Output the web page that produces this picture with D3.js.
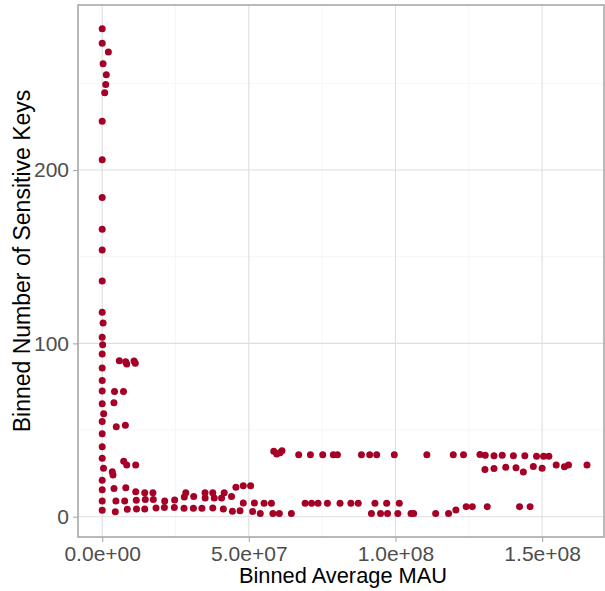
<!DOCTYPE html>
<html>
<head>
<meta charset="utf-8">
<script src="https://cdn.jsdelivr.net/npm/d3@7"></script>
<style>
  html, body { margin: 0; padding: 0; background: #ffffff; }
  svg { display: block; font-family: "Liberation Sans", Arial, sans-serif; }
</style>
</head>
<body>
<svg id="chart" width="605" height="591"></svg>
<script>
// Binned average MAU (x) against binned number of sensitive keys (y)
const mauValues = [
  // bins near zero MAU
  0, 0, 2.1e6, 0.3e6, 1.4e6, 1.2e6, 0.85e6, 0, 0, 0,
  0, 0, 0, 0, 0.3e6, 0, 0.15e6, 0, 0, 0,
  0, 0, 0.5e6, 0, 0, 0, 0, 0.45e6, 0, 0,
  0, 0,
  // small MAU bins
  5.83e6, 8.0e6, 8.36e6, 10.85e6, 11.29e6, 4.2e6, 7.26e6, 4.0e6, 4.8e6, 7.9e6,
  7.33e6, 8.36e6, 11.43e6, 3.44e6, 3.68e6, 4.02e6, 8.05e6, 11.43e6, 14.5e6, 17.3e6,
  4.67e6, 7.67e6, 11.63e6, 14.7e6, 17.43e6, 21.3e6, 24.7e6, 28.5e6, 28.0e6, 31.2e6,
  35.06e6, 35.1e6, 37.7e6, 38.2e6, 40.7e6, 41.6e6, 44.1e6, 45.6e6, 48.1e6, 50.6e6,
  48.1e6, 51.9e6, 55.2e6, 57.7e6,
  4.47e6, 8.56e6, 11.7e6, 14.5e6, 18.35e6, 21.2e6, 24.6e6, 27.9e6, 31.1e6, 34.0e6,
  37.7e6, 41.3e6, 44.4e6, 47.0e6, 51.3e6, 53.9e6, 58.2e6, 60.4e6, 64.5e6,
  // upper band around 36 keys
  58.5e6, 59.5e6, 60.6e6, 61.3e6, 67.0e6, 71.0e6, 75.2e6, 78.8e6, 80.2e6, 88.4e6,
  91.2e6, 93.6e6, 99.6e6, 110.7e6, 119.7e6, 123.2e6, 128.8e6, 130.6e6, 133.6e6, 136.4e6,
  140.2e6, 144.1e6, 148.1e6, 150.5e6, 152.3e6,
  // band around 28 keys
  130.5e6, 133.6e6, 137.6e6, 141.1e6, 143.6e6, 147.0e6, 150.0e6, 154.8e6, 157.6e6, 159.0e6,
  165.3e6,
  // band around 8 keys
  69.2e6, 71.4e6, 73.6e6, 76.8e6, 81.1e6, 84.8e6, 87.3e6, 93.0e6, 97.0e6, 101.3e6,
  // low band
  91.8e6, 94.9e6, 97.3e6, 100.8e6, 105.3e6, 106.2e6, 113.7e6, 118.1e6, 120.6e6, 124.1e6,
  126.2e6, 131.3e6, 142.3e6, 145.9e6
];

const keyCounts = [
  281.5, 273.1, 268.1, 261.3, 255.0, 249.4, 244.6, 228.1, 205.9, 184.1,
  165.8, 153.9, 136.0, 117.9, 111.7, 103.5, 99.2, 93.9, 85.8, 78.6,
  72.5, 65.2, 59.4, 55.0, 47.9, 40.4, 33.7, 27.9, 21.1, 15.5,
  9.1, 3.7,
  90.0, 89.4, 88.1, 89.8, 88.5, 72.2, 72.2, 65.8, 51.9, 52.7,
  32.0, 29.8, 29.8, 26.0, 24.1, 16.3, 16.7, 14.4, 13.8, 13.8,
  9.1, 9.1, 9.5, 10.0, 10.0, 9.1, 9.6, 13.8, 11.4, 11.7,
  13.8, 10.8, 13.8, 10.8, 10.8, 13.8, 11.7, 17.0, 17.9, 17.9,
  7.9, 7.9, 7.7, 7.7,
  2.9, 4.3, 4.4, 4.4, 5.1, 5.3, 5.3, 4.9, 4.9, 4.9,
  5.1, 4.4, 3.1, 3.4, 3.0, 1.8, 1.8, 1.8, 1.8,
  37.7, 36.2, 36.9, 38.1, 35.8, 35.8, 35.8, 35.8, 35.8, 35.8,
  35.8, 35.8, 35.8, 35.8, 35.8, 35.8, 35.9, 35.4, 35.2, 35.4,
  35.2, 35.2, 34.9, 34.9, 34.9,
  27.3, 27.8, 28.5, 28.3, 25.8, 29.0, 27.9, 29.8, 28.8, 29.8,
  29.8,
  7.7, 7.7, 7.7, 7.7, 7.7, 7.7, 7.7, 7.7, 7.7, 7.7,
  1.9, 1.9, 1.9, 1.9, 1.9, 1.9, 1.8, 1.8, 3.9, 5.8,
  5.8, 5.8, 5.8, 5.8
];

const xTickValues = [0, 5e7, 1e8, 1.5e8];
const xTickLabels = ["0.0e+00", "5.0e+07", "1.0e+08", "1.5e+08"];
const xMinorValues = [2.5e7, 7.5e7, 1.25e8];
const yTickValues = [0, 100, 200];
const yTickLabels = ["0", "100", "200"];
const yMinorValues = [50, 150, 250];

const xTitle = "Binned Average MAU";
const yTitle = "Binned Number of Sensitive Keys";

const points = mauValues.map((m, i) => ({ mau: m, keys: keyCounts[i] }));

const panel = { left: 78, right: 604, top: 5, bottom: 537 };
const svg = d3.select("#chart");

const x = d3.scaleLinear().domain([-8.25e6, 171.1e6]).range([panel.left, panel.right]);
const y = d3.scaleLinear().domain([-11.7, 295.2]).range([panel.bottom, panel.top]);

const gridColor = "#dedede";
const frameColor = "#a8a8a8";
const textColor = "#4d4d4d";

const grid = svg.append("g");
// minor grid
grid.selectAll(".xminor").data(xMinorValues).join("line")
  .attr("x1", d => x(d)).attr("x2", d => x(d))
  .attr("y1", panel.top).attr("y2", panel.bottom)
  .attr("stroke", "#ececec").attr("stroke-width", 0.55);
grid.selectAll(".yminor").data(yMinorValues).join("line")
  .attr("y1", d => y(d)).attr("y2", d => y(d))
  .attr("x1", panel.left).attr("x2", panel.right)
  .attr("stroke", "#ececec").attr("stroke-width", 0.55);
// major grid
grid.selectAll(".xmajor").data(xTickValues).join("line")
  .attr("x1", d => x(d)).attr("x2", d => x(d))
  .attr("y1", panel.top).attr("y2", panel.bottom)
  .attr("stroke", gridColor).attr("stroke-width", 1.1);
grid.selectAll(".ymajor").data(yTickValues).join("line")
  .attr("y1", d => y(d)).attr("y2", d => y(d))
  .attr("x1", panel.left).attr("x2", panel.right)
  .attr("stroke", gridColor).attr("stroke-width", 1.1);

// points
svg.append("g").selectAll("circle").data(points).join("circle")
  .attr("cx", d => x(d.mau))
  .attr("cy", d => y(d.keys))
  .attr("r", 3.5)
  .attr("fill", "#a50026");

// panel border
svg.append("rect")
  .attr("x", panel.left).attr("y", panel.top)
  .attr("width", panel.right - panel.left).attr("height", panel.bottom - panel.top)
  .attr("fill", "none").attr("stroke", frameColor).attr("stroke-width", 1.6);

// axes
const xAxis = d3.axisBottom(x).tickValues(xTickValues)
  .tickFormat((d, i) => xTickLabels[i]).tickSize(5).tickPadding(4);
const yAxis = d3.axisLeft(y).tickValues(yTickValues)
  .tickFormat((d, i) => yTickLabels[i]).tickSize(5).tickPadding(4);

const gx = svg.append("g").attr("transform", `translate(0,${panel.bottom})`).call(xAxis);
const gy = svg.append("g").attr("transform", `translate(${panel.left},0)`).call(yAxis);
[gx, gy].forEach(g => {
  g.select(".domain").remove();
  g.selectAll(".tick line").attr("stroke", frameColor).attr("stroke-width", 1.1);
  g.selectAll(".tick text").attr("fill", textColor)
    .style("font-size", "21px").style("font-family", "'Liberation Sans', Arial, sans-serif");
});

// axis titles
svg.append("text")
  .attr("x", 343).attr("y", 583)
  .attr("text-anchor", "middle").attr("fill", "#000")
  .style("font-size", "21.8px").text(xTitle);

svg.append("text")
  .attr("transform", `translate(29.5,261) rotate(-90)`)
  .attr("text-anchor", "middle").attr("fill", "#000")
  .style("font-size", "23px").text(yTitle);
</script>
</body>
</html>
